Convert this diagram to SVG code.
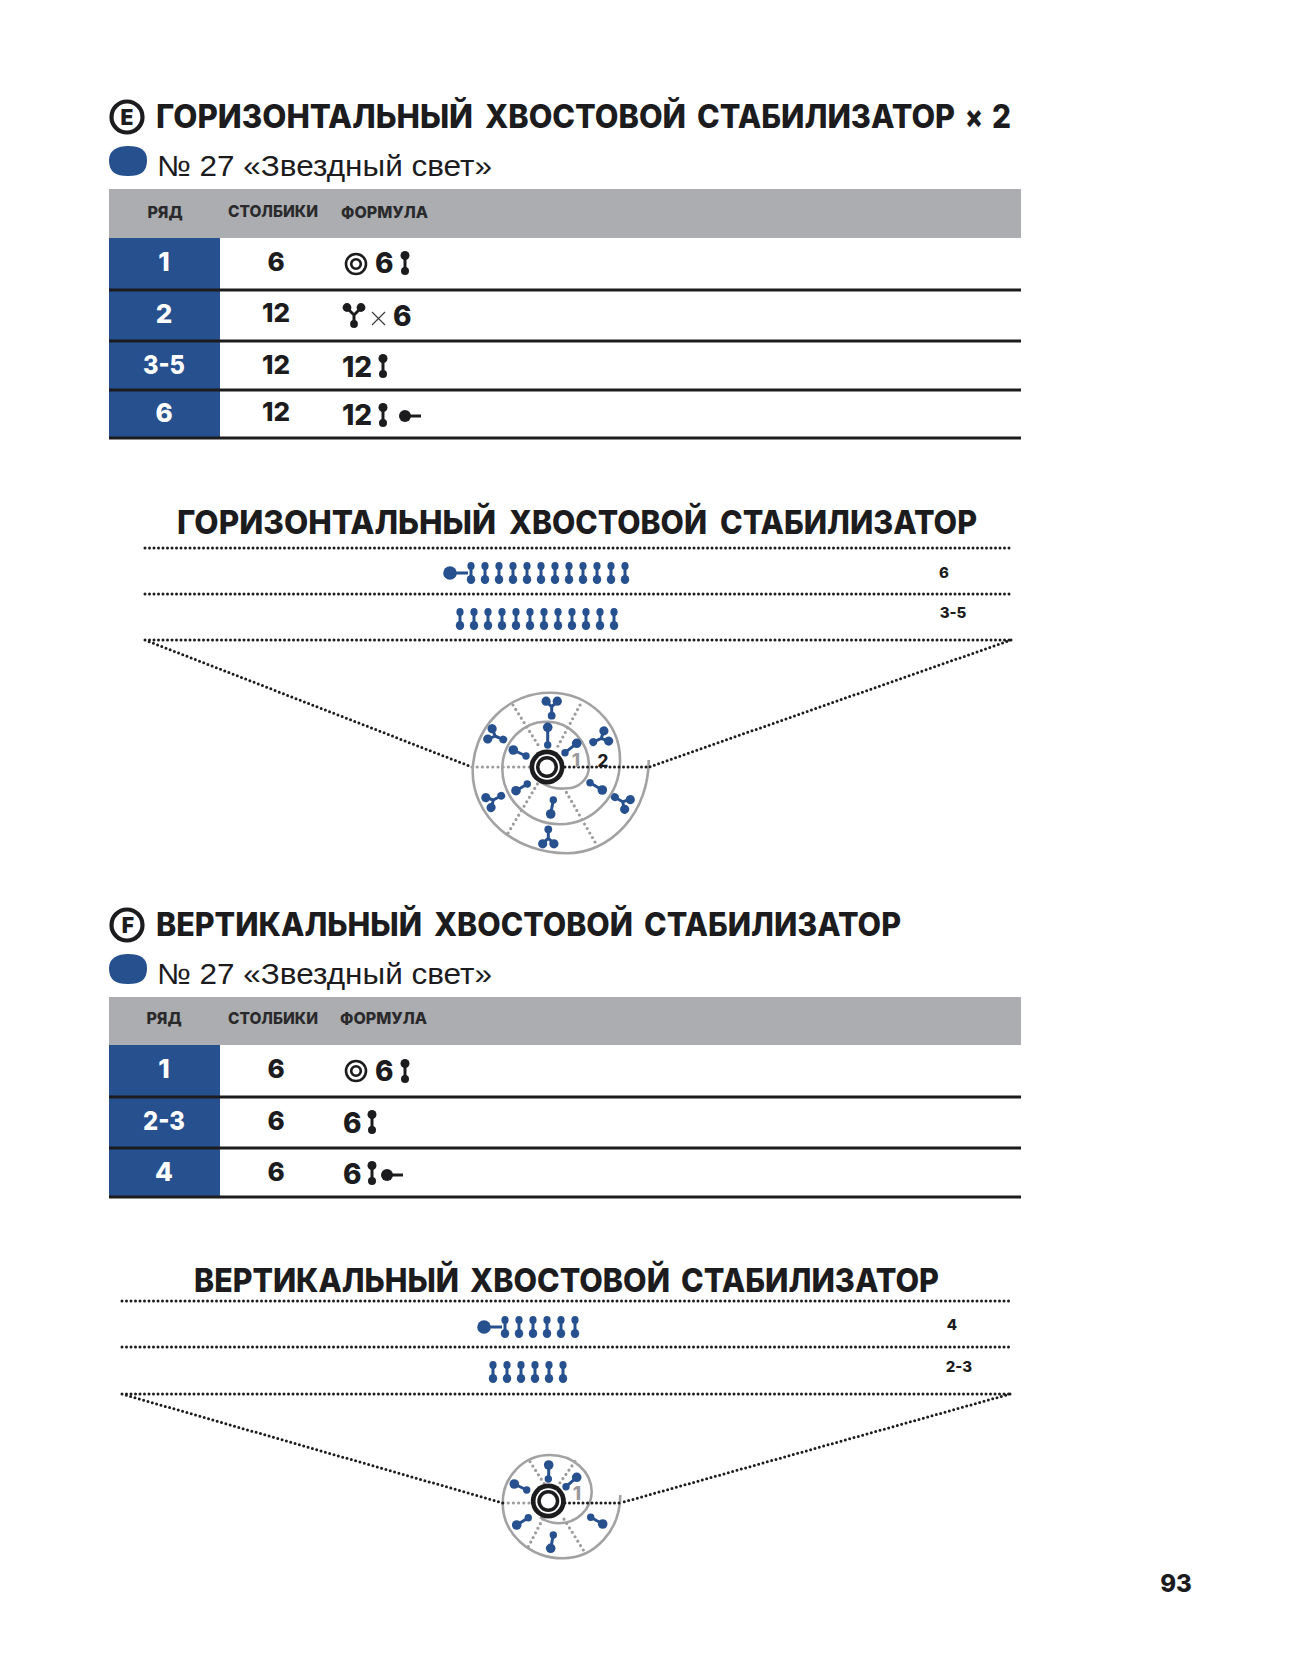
<svg xmlns="http://www.w3.org/2000/svg" width="1299" height="1654" viewBox="0 0 1299 1654">
<style>
text{font-family:Inter,"Noto Sans",sans-serif;font-weight:800;fill:#1c1c1e}
.h1{font-size:32px}
.h2{font-size:33px}
.yarn{font-family:"Liberation Sans",Arial,sans-serif;font-weight:400;font-size:29px}
.th{font-size:16px;fill:#2a2a2c}
.rn{font-size:26px;fill:#fff;text-anchor:middle}
.c{font-size:26px;text-anchor:middle}
.f{font-size:28px}
.s{font-size:15px;text-anchor:middle}
.gr{fill:#9a9a9c;font-size:19px;text-anchor:middle}
.n2{font-size:17px;text-anchor:middle}
.rule{stroke:#1c1c1e;stroke-width:2.8;fill:none}
.dot{stroke:#1c1c1e;stroke-width:3;stroke-linecap:round;stroke-dasharray:0 4.5;fill:none}
.gdot{stroke:#9c9c9e;stroke-width:3.2;stroke-linecap:round;stroke-dasharray:0 5.2;fill:none}
.sp{stroke:#a2a2a4;stroke-width:2.6;fill:none}
.blue{fill:#27508f}
.bs{stroke:#27508f;stroke-width:3;fill:none}
.k{fill:#1c1c1e}
.ks{stroke:#1c1c1e;stroke-width:3;fill:none}
</style>
<defs>
<g id="db"><line class="bs" x1="0" y1="-7" x2="0" y2="7"/><ellipse class="blue" cx="0" cy="-7" rx="3.6" ry="3.9"/><ellipse class="blue" cx="0" cy="6.500" rx="4.2" ry="4.6"/></g>
<g id="dk"><line class="ks" x1="0" y1="-8" x2="0" y2="8"/><circle class="k" cx="0" cy="-7.5" r="4.5"/><circle class="k" cx="0" cy="8" r="4"/></g>
<g id="hk"><line class="ks" x1="0" y1="0" x2="16" y2="0"/><circle class="k" cx="0" cy="0" r="6"/></g>
<g id="hb"><line class="bs" x1="0" y1="0" x2="18" y2="0"/><circle class="blue" cx="0" cy="0" r="6.800"/></g>
<g id="ring"><circle cx="0" cy="0" r="10" fill="none" stroke="#1c1c1e" stroke-width="2.600"/><circle cx="0" cy="0" r="4.800" fill="none" stroke="#1c1c1e" stroke-width="2.600"/></g>
<g id="yk"><path class="ks" d="M-7-7 0 0 7-7M0 0V9"/><circle class="k" cx="-7" cy="-7.5" r="4.4"/><circle class="k" cx="7" cy="-7.5" r="4.4"/><circle class="k" cx="0" cy="9" r="3.9"/></g>
<g id="y"><path class="bs" d="M-5.5-5 0 0 5.5-5M0 0V9"/><circle class="blue" cx="-5.6" cy="-5.5" r="4.600"/><circle class="blue" cx="5.6" cy="-5.5" r="4.600"/><circle class="blue" cx="0" cy="9" r="3.900"/></g>
<g id="cen"><circle class="k" r="17.500"/><circle r="12.800" fill="#fff"/><circle r="11" class="k"/><circle r="7.500" fill="#fff"/></g>
<path id="blob" class="blue" d="M109 160C109 150 118 146 128 146C140 146 147 150 147 160C147 172 141 176 128 176C115 176 109 172 109 160Z"/>
<circle id="tb" r="15.500" fill="#fff" stroke="#1c1c1e" stroke-width="4.200"/>
</defs>
<rect width="1299" height="1654" fill="#fff"/>

<g id="section-e-title">
<use href="#tb" x="127" y="117"/>
<text x="127" y="124.500" style="font-size:21px;font-weight:900" text-anchor="middle">E</text>
<text class="h1" y="128"><tspan x="156" textLength="317" lengthAdjust="spacingAndGlyphs">ГОРИЗОНТАЛЬНЫЙ</tspan> <tspan x="485" textLength="201" lengthAdjust="spacingAndGlyphs">ХВОСТОВОЙ</tspan> <tspan x="697" textLength="258" lengthAdjust="spacingAndGlyphs">СТАБИЛИЗАТОР</tspan> <tspan x="965" textLength="18" lengthAdjust="spacingAndGlyphs">×</tspan> <tspan x="992" textLength="19" lengthAdjust="spacingAndGlyphs">2</tspan></text>
<use href="#blob"/>
<text class="yarn" x="157" y="176" textLength="335" lengthAdjust="spacingAndGlyphs">№ 27 «Звездный свет»</text>
</g>
<g id="table-e">
<rect x="109" y="189" width="912" height="49" fill="#abadb0"/>
<rect class="blue" x="109" y="238" width="111" height="200"/>
<text class="th" x="165" y="218" text-anchor="middle">РЯД</text>
<text class="th" x="273" y="217" text-anchor="middle" textLength="90" lengthAdjust="spacingAndGlyphs">СТОЛБИКИ</text>
<text class="th" x="341" y="218" textLength="87" lengthAdjust="spacingAndGlyphs">ФОРМУЛА</text>
<path class="rule" d="M109 290H1021M109 341H1021M109 390H1021M109 438H1021"/>
<text class="rn" x="164" y="271">1</text><text class="rn" x="164" y="323">2</text><text class="rn" x="164" y="374" textLength="42" lengthAdjust="spacingAndGlyphs">3-5</text><text class="rn" x="164" y="422">6</text>
<text class="c" x="276" y="271">6</text><text class="c" x="276" y="322">12</text><text class="c" x="276" y="374">12</text><text class="c" x="276" y="421">12</text>
<use href="#ring" x="356" y="264"/><text class="f" x="375" y="273">6</text><use href="#dk" x="405" y="263"/>
<use href="#yk" x="354" y="315"/><path d="M372 312L385 325M385 312L372 325" stroke="#3a3a3c" stroke-width="1.200"/><text class="f" x="393" y="326">6</text>
<text class="f" x="342" y="377">12</text><use href="#dk" x="383" y="366"/>
<text class="f" x="342" y="425">12</text><use href="#dk" x="383" y="415"/><use href="#hk" x="405" y="416"/>
</g>

<g id="chart-e">
<text class="h2" y="534"><tspan x="177" textLength="319" lengthAdjust="spacingAndGlyphs">ГОРИЗОНТАЛЬНЫЙ</tspan> <tspan x="509" textLength="198" lengthAdjust="spacingAndGlyphs">ХВОСТОВОЙ</tspan> <tspan x="720" textLength="257" lengthAdjust="spacingAndGlyphs">СТАБИЛИЗАТОР</tspan></text>
<text class="s" x="944" y="578">6</text>
<text class="s" x="953" y="618">3-5</text>
<use href="#hb" x="450" y="573"/>
<use href="#db" x="471" y="573"/><use href="#db" x="485" y="573"/><use href="#db" x="499" y="573"/><use href="#db" x="513" y="573"/><use href="#db" x="527" y="573"/><use href="#db" x="541" y="573"/><use href="#db" x="555" y="573"/><use href="#db" x="569" y="573"/><use href="#db" x="583" y="573"/><use href="#db" x="597" y="573"/><use href="#db" x="611" y="573"/><use href="#db" x="625" y="573"/>
<use href="#db" x="460" y="619"/><use href="#db" x="474" y="619"/><use href="#db" x="488" y="619"/><use href="#db" x="502" y="619"/><use href="#db" x="516" y="619"/><use href="#db" x="530" y="619"/><use href="#db" x="544" y="619"/><use href="#db" x="558" y="619"/><use href="#db" x="572" y="619"/><use href="#db" x="586" y="619"/><use href="#db" x="600" y="619"/><use href="#db" x="614" y="619"/>
<path class="gdot" d="M472 767H530M513 705L540 748M580 705L557 748M508 833L538 783M595 842L565 790"/>
<path class="sp" d="M648.700 760A82 93 0 0 1 566.700 853.300A94 81.600 0 0 1 472.700 771.700A77 79 0 0 1 550 692.700A70 67 0 0 1 620 760A60 64 0 0 1 560 824.300A58 56 0 0 1 502.300 768.300A44 47 0 0 1 546.700 721.700A42 45 0 0 1 589 766.700A22 22 0 0 1 566.700 788.300Q552 790 540 781.700"/>
<path class="dot" d="M145 548H1010M145 594H1010M145 640H1010M145 640L472 767M1011 640L649 767M565 767H649"/>
<g class="bs"><path d="M547.700 727.300V745M576.700 743.300L565 752.700M513.300 750L526 756M516 790.700L527.300 784M550.700 814L553.300 800M602.300 790L590 782.700"/></g>
<g class="blue"><circle cx="547.700" cy="727.300" r="4.800"/><circle cx="547.700" cy="745" r="3.700"/><circle cx="576.700" cy="743.300" r="4.800"/><circle cx="565" cy="752.700" r="3.700"/><circle cx="513.300" cy="750" r="4.800"/><circle cx="526" cy="756" r="3.700"/><circle cx="516" cy="790.700" r="4.800"/><circle cx="527.300" cy="784" r="3.700"/><circle cx="550.700" cy="814" r="4.800"/><circle cx="553.300" cy="800" r="3.700"/><circle cx="602.300" cy="790" r="4.800"/><circle cx="590" cy="782.700" r="3.700"/></g>
<use href="#y" transform="translate(551.700 706.700)"/>
<use href="#y" transform="translate(601.300 738.300) rotate(65)"/>
<use href="#y" transform="translate(622.700 801.700) rotate(120)"/>
<use href="#y" transform="translate(548.300 838.300) rotate(180)"/>
<use href="#y" transform="translate(493.300 800) rotate(242)"/>
<use href="#y" transform="translate(495 736) rotate(293)"/>
<use href="#cen" x="547" y="767"/>
<text class="gr" x="576" y="767">1</text><text class="n2" x="603" y="767">2</text>
</g>

<g id="section-f-title">
<use href="#tb" x="127" y="925"/>
<text x="128" y="932.500" style="font-size:21px;font-weight:900" text-anchor="middle">F</text>
<text class="h1" y="935.500"><tspan x="156" textLength="266" lengthAdjust="spacingAndGlyphs">ВЕРТИКАЛЬНЫЙ</tspan> <tspan x="434" textLength="199" lengthAdjust="spacingAndGlyphs">ХВОСТОВОЙ</tspan> <tspan x="644" textLength="257" lengthAdjust="spacingAndGlyphs">СТАБИЛИЗАТОР</tspan></text>
<use href="#blob" y="808"/>
<text class="yarn" x="157" y="984" textLength="335" lengthAdjust="spacingAndGlyphs">№ 27 «Звездный свет»</text>
</g>
<g id="table-f">
<rect x="109" y="997" width="912" height="48" fill="#abadb0"/>
<rect class="blue" x="109" y="1045" width="111" height="152"/>
<text class="th" x="164" y="1024" text-anchor="middle">РЯД</text>
<text class="th" x="273" y="1024" text-anchor="middle" textLength="90" lengthAdjust="spacingAndGlyphs">СТОЛБИКИ</text>
<text class="th" x="340" y="1024" textLength="87" lengthAdjust="spacingAndGlyphs">ФОРМУЛА</text>
<path class="rule" d="M109 1097H1021M109 1148H1021M109 1197H1021"/>
<text class="rn" x="164" y="1078">1</text><text class="rn" x="164" y="1130" textLength="42" lengthAdjust="spacingAndGlyphs">2-3</text><text class="rn" x="164" y="1181">4</text>
<text class="c" x="276" y="1078">6</text><text class="c" x="276" y="1130">6</text><text class="c" x="276" y="1181">6</text>
<use href="#ring" x="356" y="1071"/><text class="f" x="375" y="1081">6</text><use href="#dk" x="405" y="1071"/>
<text class="f" x="343" y="1133">6</text><use href="#dk" x="372" y="1122"/>
<text class="f" x="343" y="1184">6</text><use href="#dk" x="372" y="1173"/><use href="#hk" x="387" y="1175"/>
</g>

<g id="chart-f">
<text class="h2" y="1292"><tspan x="194" textLength="265" lengthAdjust="spacingAndGlyphs">ВЕРТИКАЛЬНЫЙ</tspan> <tspan x="470" textLength="200" lengthAdjust="spacingAndGlyphs">ХВОСТОВОЙ</tspan> <tspan x="681" textLength="258" lengthAdjust="spacingAndGlyphs">СТАБИЛИЗАТОР</tspan></text>
<text class="s" x="952" y="1330">4</text>
<text class="s" x="959" y="1372">2-3</text>
<use href="#hb" x="484" y="1327"/>
<use href="#db" x="505" y="1327"/><use href="#db" x="519" y="1327"/><use href="#db" x="533" y="1327"/><use href="#db" x="547" y="1327"/><use href="#db" x="561" y="1327"/><use href="#db" x="575" y="1327"/>
<use href="#db" x="493" y="1372"/><use href="#db" x="507" y="1372"/><use href="#db" x="521" y="1372"/><use href="#db" x="535" y="1372"/><use href="#db" x="549" y="1372"/><use href="#db" x="563" y="1372"/>
<path class="gdot" d="M503 1503H535M530 1461.700L545 1485M575 1461.700L558.300 1485M528.300 1546.700L543.300 1518M583.300 1550L563.300 1518"/>
<path class="sp" d="M620.300 1495A57 63 0 0 1 563.300 1558.300A60.600 55 0 0 1 502.700 1503.300A47 48 0 0 1 550 1455A41.700 37 0 0 1 591.700 1491.700A33 32 0 0 1 558.300 1523.300Q548 1523 540 1517.300"/>
<path class="dot" d="M122 1301H1010M122 1347H1010M122 1394H1010M122 1394L503 1503M1010 1394L620 1503M565 1503H620"/>
<g class="bs"><path d="M548.700 1465V1479M576.700 1477.300L566 1486.700M514.300 1484L526.700 1490M516.700 1525L528.300 1517.700M550.700 1548.300L553.300 1535M602.700 1524L590.700 1517.300"/></g>
<g class="blue"><circle cx="548.700" cy="1465" r="4.800"/><circle cx="548.300" cy="1479" r="3.700"/><circle cx="576.700" cy="1477.300" r="4.800"/><circle cx="566" cy="1486.700" r="3.700"/><circle cx="514.300" cy="1484" r="4.800"/><circle cx="526.700" cy="1490" r="3.700"/><circle cx="516.700" cy="1525" r="4.800"/><circle cx="528.300" cy="1517.700" r="3.700"/><circle cx="550.700" cy="1548.300" r="4.800"/><circle cx="553.300" cy="1535" r="3.700"/><circle cx="602.700" cy="1524" r="4.800"/><circle cx="590.700" cy="1517.300" r="3.700"/></g>
<use href="#cen" x="548.300" y="1501"/>
<text class="gr" x="577" y="1500">1</text>
</g>
<text id="page-number" x="1176" y="1592" text-anchor="middle" style="font-size:24px">93</text>
</svg>
